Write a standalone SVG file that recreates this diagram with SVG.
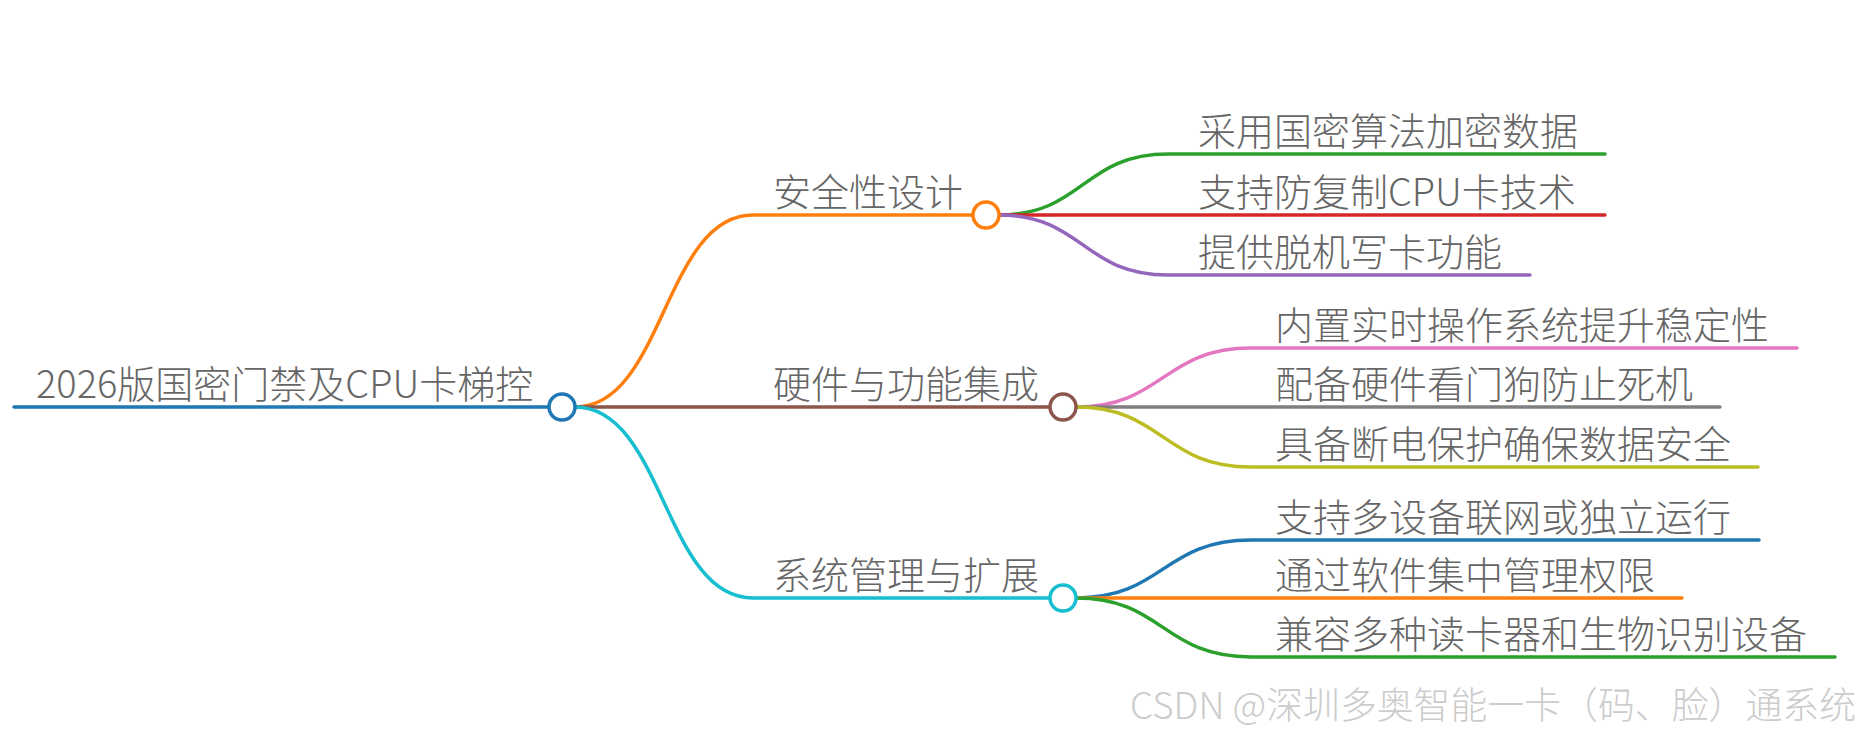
<svg xmlns="http://www.w3.org/2000/svg" width="1860" height="734" viewBox="0 0 1860 734">
<style>
text{font-family:"Noto Sans CJK SC","Noto Sans",sans-serif;font-size:38px;fill:#666666;font-weight:300}
.ln{fill:none;stroke-width:3.5;stroke-linecap:round}
.nd{fill:#ffffff;stroke-width:3.5}
.wm{font-size:37px;fill:#cccccc}
</style>
<rect width="1860" height="734" fill="#ffffff"/>
<g id="connectors">
<path class="ln" d="M14,407 H549" stroke="#1f77b4" stroke-width="4.5"/>
<path class="ln" d="M575,407 C664,407 664,215 753,215 H973" stroke="#ff7f0e"/>
<path class="ln" d="M575,407 H1050" stroke="#8c564b"/>
<path class="ln" d="M575,407 C664,407 664,598 753,598 H1050" stroke="#17becf"/>
<path class="ln" d="M999,215 C1083,215 1083,154 1168,154 H1605" stroke="#2ca02c"/>
<path class="ln" d="M999,215 H1605" stroke="#d62728"/>
<path class="ln" d="M999,215 C1083,215 1083,275 1168,275 H1530" stroke="#9467bd"/>
<path class="ln" d="M1076,407 C1163,407 1163,348 1251,348 H1797" stroke="#e377c2"/>
<path class="ln" d="M1076,407 H1720" stroke="#7f7f7f"/>
<path class="ln" d="M1076,407 C1163,407 1163,467 1251,467 H1758" stroke="#bcbd22"/>
<path class="ln" d="M1076,598 C1163,598 1163,540 1251,540 H1759" stroke="#1f77b4"/>
<path class="ln" d="M1076,598 H1682" stroke="#ff7f0e"/>
<path class="ln" d="M1076,598 C1163,598 1163,657 1251,657 H1835" stroke="#2ca02c"/>
</g>
<g id="root">
<text x="36" y="398">2026版国密门禁及CPU卡梯控</text>
<circle class="nd" cx="562" cy="407" r="13" stroke="#1f77b4"/>
</g>
<g id="n1">
<text x="773" y="206">安全性设计</text>
<circle class="nd" cx="986" cy="215" r="13" stroke="#ff7f0e"/>
</g>
<g id="n2">
<text x="773" y="398">硬件与功能集成</text>
<circle class="nd" cx="1063" cy="407" r="13" stroke="#8c564b"/>
</g>
<g id="n3">
<text x="773" y="589">系统管理与扩展</text>
<circle class="nd" cx="1063" cy="598" r="13" stroke="#17becf"/>
</g>
<g id="n1a"><text x="1198" y="145">采用国密算法加密数据</text></g>
<g id="n1b"><text x="1198" y="206">支持防复制CPU卡技术</text></g>
<g id="n1c"><text x="1198" y="266">提供脱机写卡功能</text></g>
<g id="n2a"><text x="1275" y="339">内置实时操作系统提升稳定性</text></g>
<g id="n2b"><text x="1275" y="398">配备硬件看门狗防止死机</text></g>
<g id="n2c"><text x="1275" y="458">具备断电保护确保数据安全</text></g>
<g id="n3a"><text x="1275" y="531">支持多设备联网或独立运行</text></g>
<g id="n3b"><text x="1275" y="589">通过软件集中管理权限</text></g>
<g id="n3c"><text x="1275" y="648">兼容多种读卡器和生物识别设备</text></g>
<text class="wm" x="1130" y="719" textLength="726" lengthAdjust="spacingAndGlyphs">CSDN @深圳多奥智能一卡（码、脸）通系统</text>
</svg>
